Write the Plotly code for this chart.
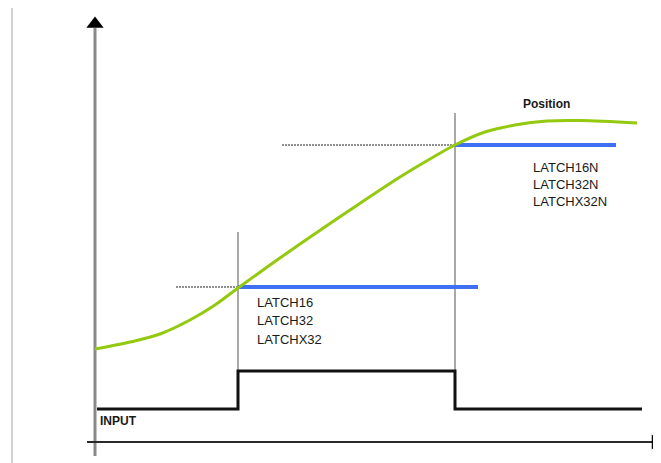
"""Latch timing diagram: position curve, latch levels and input pulse."""

import plotly.graph_objects as go

# Diagram units follow the drawing canvas (x to the right, y downwards).
POSITION_X = [95, 130, 160, 190, 215, 238, 270, 300, 350, 400, 430, 455, 485, 515, 547, 580, 637]
POSITION_Y = [349, 342, 334, 320, 305, 288, 265, 244, 210, 177, 159, 145, 132, 125, 121, 120.5, 123]

INPUT_X = [97, 238, 238, 455, 455, 642]
INPUT_Y = [409, 409, 371, 371, 409, 409]

# Latch events: edge time, latched level, extent of the latched value line
RISE_EDGE_X = 238
FALL_EDGE_X = 455
LOW_LATCH_LEVEL = 287
HIGH_LATCH_LEVEL = 145
LOW_LATCH_END = 478
HIGH_LATCH_END = 616
LOW_GUIDE_START = 176
HIGH_GUIDE_START = 282
RISE_MARK_TOP = 232
FALL_MARK_TOP = 113

LOW_LATCH_LABELS = ["LATCH16", "LATCH32", "LATCHX32"]
HIGH_LATCH_LABELS = ["LATCH16N", "LATCH32N", "LATCHX32N"]

GREEN = "#93c90e"
BLUE = "#3f6ff2"
GRAY = "#a8a8a8"

# the page body adds an 8 px margin around the figure
PAGE_MARGIN = 8
CANVAS_W = 661
CANVAS_H = 463

fig = go.Figure()


def add_line(x, y, color, width, dash="solid", shape="linear"):
    fig.add_trace(
        go.Scatter(
            x=x,
            y=y,
            mode="lines",
            line={"color": color, "width": width, "dash": dash, "shape": shape},
            hoverinfo="skip",
            showlegend=False,
        )
    )


def add_arrowhead(x, y, symbol, size):
    fig.add_trace(
        go.Scatter(
            x=[x],
            y=[y],
            mode="markers",
            marker={"symbol": symbol, "size": size, "color": "black"},
            hoverinfo="skip",
            showlegend=False,
            cliponaxis=False,
        )
    )


# page border line at the far left
add_line([12, 12], [5, 463], "#d4d4d4", 2)

# axes
add_line([95, 95], [28, 456], "#8a8a8a", 3)
add_line([87, 652], [442, 442], "#2a2a2a", 2)
add_arrowhead(95, 24, "triangle-up", 15)
add_arrowhead(655, 442, "triangle-right", 13)

# edge markers
add_line([RISE_EDGE_X, RISE_EDGE_X], [RISE_MARK_TOP, 409], GRAY, 2)
add_line([FALL_EDGE_X, FALL_EDGE_X], [FALL_MARK_TOP, 409], GRAY, 2)

# dotted guides to the latched values
add_line([LOW_GUIDE_START, RISE_EDGE_X], [LOW_LATCH_LEVEL] * 2, "#8f8f8f", 2, dash="2px,1px")
add_line([HIGH_GUIDE_START, FALL_EDGE_X], [HIGH_LATCH_LEVEL] * 2, "#8f8f8f", 2, dash="2px,1px")

# latched values
add_line([RISE_EDGE_X, LOW_LATCH_END], [LOW_LATCH_LEVEL] * 2, BLUE, 4)
add_line([FALL_EDGE_X, HIGH_LATCH_END], [HIGH_LATCH_LEVEL] * 2, BLUE, 4)

# position curve
add_line(POSITION_X, POSITION_Y, GREEN, 3, shape="spline")

# input pulse
add_line(INPUT_X, INPUT_Y, "#111111", 3)

text_font = {"family": "Liberation Sans, Arial, sans-serif", "size": 13, "color": "#1a1a1a"}

for i, label in enumerate(LOW_LATCH_LABELS):
    fig.add_annotation(
        x=255, y=302 + i * 18.5, text=label, showarrow=False,
        xanchor="left", yanchor="middle", font=text_font,
    )

for i, label in enumerate(HIGH_LATCH_LABELS):
    fig.add_annotation(
        x=531, y=167 + i * 17, text=label, showarrow=False,
        xanchor="left", yanchor="middle", font=text_font,
    )

fig.add_annotation(
    x=521, y=104, text="<b>Position</b>", showarrow=False,
    xanchor="left", yanchor="middle",
    font={"family": "Liberation Sans, Arial, sans-serif", "size": 12, "color": "#1a1a1a"},
)
fig.add_annotation(
    x=98, y=421, text="<b>INPUT</b>", showarrow=False,
    xanchor="left", yanchor="middle",
    font={"family": "Liberation Sans, Arial, sans-serif", "size": 12, "color": "#1a1a1a"},
)

fig.update_xaxes(range=[PAGE_MARGIN, CANVAS_W], visible=False, fixedrange=True)
fig.update_yaxes(range=[CANVAS_H, PAGE_MARGIN], visible=False, fixedrange=True)

fig.update_layout(
    width=CANVAS_W - PAGE_MARGIN,
    height=CANVAS_H - PAGE_MARGIN,
    margin={"l": 0, "r": 0, "t": 0, "b": 0},
    plot_bgcolor="white",
    paper_bgcolor="white",
    showlegend=False,
)

fig.write_html("out.html", config={"displayModeBar": False})
